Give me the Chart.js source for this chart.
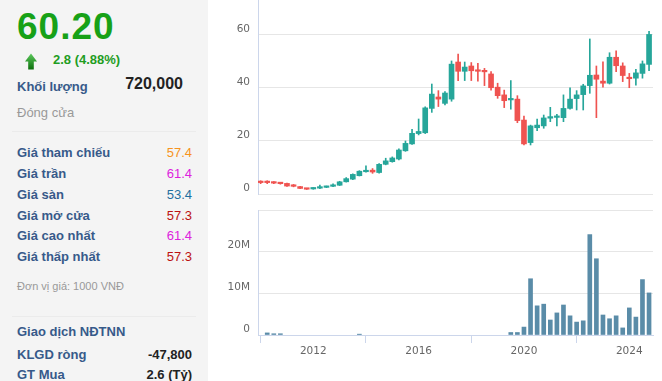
<!DOCTYPE html>
<html><head><meta charset="utf-8">
<script src="https://cdn.jsdelivr.net/npm/chart.js@4.4.1/dist/chart.umd.min.js"></script>
<style>
html,body{margin:0;padding:0;width:662px;height:381px;overflow:hidden;background:#fff;font-family:"Liberation Sans",Arial,sans-serif;}
#panel{position:absolute;left:0;top:0;width:208px;height:381px;background:#f4f4f4;}
.t{position:absolute;white-space:nowrap;line-height:1;}
.lab{left:17px;font-size:13px;font-weight:bold;color:#375a8a;}
.val{right:16px;font-size:13px;text-align:right;}
.sep{position:absolute;left:12px;width:184px;height:1px;background:#ebebeb;}
canvas{position:absolute;}
</style></head>
<body>
<div id="panel">
  <div class="t" style="left:17px;top:8px;font-size:37px;font-weight:bold;color:#17a117;letter-spacing:1px;">60.20</div>
  <svg style="position:absolute;left:0;top:0" width="60" height="80">
    <defs><linearGradient id="g" x1="0" y1="0" x2="0" y2="1"><stop offset="0" stop-color="#5cc85c"/><stop offset="1" stop-color="#0b6f0b"/></linearGradient></defs>
    <polygon points="31,53.5 37,61.5 33.8,61.5 33.8,69.5 28.2,69.5 28.2,61.5 25,61.5" fill="url(#g)"/>
  </svg>
  <div class="t" style="left:53px;top:53.4px;font-size:13px;font-weight:bold;color:#1f9d1f;">2.8 (4.88%)</div>
  <div class="t lab" style="top:79.5px;">Khối lượng</div>
  <div class="t" style="right:25px;top:76px;font-size:16px;font-weight:bold;color:#222;">720,000</div>
  <div class="t" style="left:17px;top:105.5px;font-size:13px;color:#999;">Đóng cửa</div>
  <div class="sep" style="top:131px;"></div>
  <div class="t lab" style="top:146.3px;">Giá tham chiếu</div>
  <div class="t val" style="top:146.3px;color:#f7931e;">57.4</div>
  <div class="t lab" style="top:167px;">Giá trần</div>
  <div class="t val" style="top:167px;color:#dd22dd;">61.4</div>
  <div class="t lab" style="top:187.7px;">Giá sàn</div>
  <div class="t val" style="top:187.7px;color:#1f6f9f;">53.4</div>
  <div class="t lab" style="top:208.5px;">Giá mở cửa</div>
  <div class="t val" style="top:208.5px;color:#bb1111;">57.3</div>
  <div class="t lab" style="top:229.3px;">Giá cao nhất</div>
  <div class="t val" style="top:229.3px;color:#dd22dd;">61.4</div>
  <div class="t lab" style="top:250px;">Giá thấp nhất</div>
  <div class="t val" style="top:250px;color:#bb1111;">57.3</div>
  <div class="t" style="left:17px;top:281.2px;font-size:11px;color:#999;">Đơn vị giá: 1000 VNĐ</div>
  <div class="sep" style="top:316px;"></div>
  <div class="t lab" style="top:325px;">Giao dịch NĐTNN</div>
  <div class="t lab" style="top:348px;">KLGD ròng</div>
  <div class="t val" style="top:348px;font-weight:bold;color:#222;">-47,800</div>
  <div class="t lab" style="top:368.3px;">GT Mua</div>
  <div class="t val" style="top:368.3px;font-weight:bold;color:#222;">2.6 (Tỷ)</div>
</div>
<canvas id="price" width="452" height="200" style="left:210px;top:0px;"></canvas>
<canvas id="vol" width="452" height="181" style="left:210px;top:200px;"></canvas>
<script>
const quarters = ['2010-Q1','2010-Q2','2010-Q3','2010-Q4','2011-Q1','2011-Q2','2011-Q3','2011-Q4','2012-Q1','2012-Q2','2012-Q3','2012-Q4','2013-Q1','2013-Q2','2013-Q3','2013-Q4','2014-Q1','2014-Q2','2014-Q3','2014-Q4','2015-Q1','2015-Q2','2015-Q3','2015-Q4','2016-Q1','2016-Q2','2016-Q3','2016-Q4','2017-Q1','2017-Q2','2017-Q3','2017-Q4','2018-Q1','2018-Q2','2018-Q3','2018-Q4','2019-Q1','2019-Q2','2019-Q3','2019-Q4','2020-Q1','2020-Q2','2020-Q3','2020-Q4','2021-Q1','2021-Q2','2021-Q3','2021-Q4','2022-Q1','2022-Q2','2022-Q3','2022-Q4','2023-Q1','2023-Q2','2023-Q3','2023-Q4','2024-Q1','2024-Q2','2024-Q3','2024-Q4'];
const openP  = [4.5,4.5,4.5,4.1,4.0,3.1,2.8,2.1,1.9,2.2, 2.5,2.9,3.3,4.6,5.6,6.9,8.4,9.0,8.1,11.2, 12.2,13.2,16.3,18.9,22.8,23.1,32.3,36.6,34.2,35.8, 49.8,46.3,48.3,46.8,46.5,45.3,40.3,37.4,35.5,35.8, 27.9,19.4,25.0,25.7,28.6,28.9,28.8,32.3,36.0,37.5, 40.9,44.9,42.6,41.8,51.6,48.3,44.0,43.7,45.5,48.9];
const highP  = [5.0,5.0,4.7,4.3,4.1,3.6,2.9,2.1,2.4,3.4, 3.0,3.8,4.8,6.2,7.6,8.8,10.6,9.6,11.5,13.5, 14.0,17.0,20.0,24.4,28.3,32.9,41.5,39.0,38.6,50.2, 52.8,49.8,49.6,49.3,47.4,46.2,41.8,39.2,42.8,37.1, 29.4,26.0,28.3,29.8,32.7,30.1,37.4,40.1,39.0,41.4, 58.5,48.3,49.9,53.3,54.0,49.5,45.5,47.0,50.2,61.4];
const lowP   = [3.9,3.9,3.9,3.7,2.9,2.7,2.0,1.7,1.8,2.0, 2.4,2.8,3.2,4.5,5.4,6.8,8.2,7.8,7.9,11.0, 12.0,12.9,16.1,18.7,22.3,22.8,30.8,33.0,33.6,35.0, 42.8,42.8,42.8,42.6,40.9,39.2,36.1,32.6,32.0,26.9, 18.5,18.5,23.9,24.8,27.3,25.7,27.3,32.0,31.7,31.7, 38.0,28.8,40.3,41.5,46.2,42.4,40.1,41.1,43.7,46.5];
const closeP = [4.3,4.3,4.1,3.9,3.0,2.9,2.1,1.8,2.1,2.6, 2.8,3.4,4.6,5.8,7.4,8.6,8.9,8.3,11.2,12.5, 13.6,16.6,19.1,22.9,23.6,32.5,37.7,35.8,38.1,49.0, 46.3,47.9,46.5,46.3,46.1,40.1,37.1,35.2,35.8,27.7, 18.9,25.7,26.0,28.7,29.2,29.4,32.3,35.8,37.4,40.8, 44.8,43.3,41.8,51.6,48.4,44.7,43.5,45.7,49.1,60.2];
const volumeM = [0,0.5,0.3,0.3,0,0,0,0,0,0, 0,0,0,0,0,0.2,0,0,0,0, 0,0,0,0,0,0,0,0,0,0, 0,0,0,0,0,0,0,0,0.6,0.6, 1.9,13.5,7.0,7.4,3.6,5.3,7.2,4.6,3.1,3.4, 24.1,18.3,4.8,3.9,4.6,1.7,6.5,4.3,13.3,10.1];
const priceTicks = [0,20,40,60];
const volumeTicks = [0,10,20,30];
const yearTicks = [2012,2016,2020,2024];

const qx = quarters.map(q => { const [y, qq] = q.split('-Q'); return Number(y) + (Number(qq) - 1) / 4; });
const UP = '#26a69a', DOWN = '#ef5350';
const candleColor = ctx => closeP[ctx.dataIndex] >= openP[ctx.dataIndex] ? UP : DOWN;
const tickFont = {family: 'DejaVu Sans', size: 10.5};
const XMIN = 2009.9, XMAX = 2024.9;

new Chart(document.getElementById('price'), {
  type: 'bar',
  data: { datasets: [
    { data: qx.map((x, i) => ({x, y: [openP[i], closeP[i]]})), backgroundColor: candleColor, barThickness: 5, minBarLength: 1.5, order: 1 },
    { data: qx.map((x, i) => ({x, y: [lowP[i], highP[i]]})), backgroundColor: candleColor, barThickness: 1, order: 2 }
  ]},
  options: {
    animation: false, responsive: false, devicePixelRatio: 1,
    datasets: { bar: { grouped: false } },
    layout: { padding: { left: 0, right: 9, top: 0, bottom: 6 } },
    plugins: { legend: { display: false }, tooltip: { enabled: false } },
    scales: {
      x: { type: 'linear', min: XMIN, max: XMAX, offset: false, display: false },
      y: { min: 0, max: 73.2,
        afterBuildTicks: s => { s.ticks = priceTicks.map(v => ({value: v})); },
        afterFit: s => { s.width = 48; s.paddingTop = 0; s.paddingBottom = 0; },
        grid: { color: '#e6e6e6', drawTicks: false },
        border: { display: true, color: '#ccd6eb' },
        ticks: { padding: 8, labelOffset: -6, color: '#666', font: tickFont }
      }
    }
  }
});

new Chart(document.getElementById('vol'), {
  type: 'bar',
  data: { datasets: [
    { data: qx.map((x, i) => ({x, y: volumeM[i] > 0 ? volumeM[i] : null})), backgroundColor: '#5a8ca8', barThickness: 4 }
  ]},
  options: {
    animation: false, responsive: false, devicePixelRatio: 1,
    layout: { padding: { left: 0, right: 9, top: 10, bottom: 0 } },
    plugins: { legend: { display: false }, tooltip: { enabled: false } },
    scales: {
      x: { type: 'linear', min: XMIN, max: XMAX, offset: false,
        afterBuildTicks: s => { s.ticks = yearTicks.map(v => ({value: v})); },
        afterFit: s => { s.height = 46; s.paddingLeft = 0; s.paddingRight = 0; },
        grid: { drawOnChartArea: false, color: '#ccd6eb', tickLength: 8 },
        border: { display: true, color: '#ccd6eb' },
        ticks: { padding: 2, color: '#666', font: tickFont, maxRotation: 0, autoSkip: false, callback: v => String(v) }
      },
      y: { min: 0, max: 30,
        afterBuildTicks: s => { s.ticks = volumeTicks.map(v => ({value: v})); },
        afterFit: s => { s.width = 48; s.paddingTop = 0; s.paddingBottom = 0; },
        grid: { color: '#e6e6e6', drawTicks: false },
        border: { display: true, color: '#ccd6eb' },
        ticks: { padding: 8, labelOffset: -6, color: '#666', font: tickFont,
          callback: v => v === 30 ? '' : (v === 0 ? '0' : v + 'M') }
      }
    }
  }
});
</script>
</body></html>
